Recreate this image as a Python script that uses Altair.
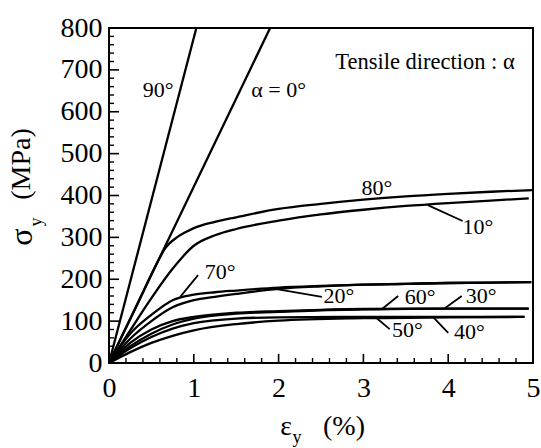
import altair as alt
import pandas as pd

FONT = "Liberation Serif, Times New Roman, Times, serif"

# ---- curve data (strain %, stress MPa) ----
x_0 = [0, 1.9]
s_0 = [0, 800]
x_90 = [0, 1.03]
s_90 = [0, 800]
x_80 = [0, 0.3, 0.6, 0.65, 0.7, 0.8, 0.9, 1.0, 1.25, 1.5, 2, 2.5, 3, 3.5, 4, 4.5, 5]
s_80 = [0, 126, 252, 270, 283, 300, 312, 322, 337, 348, 368, 380, 390, 398, 404, 409, 413]
x_10 = [0, 0.25, 0.5, 0.75, 1, 1.25, 1.5, 2, 2.5, 3, 3.5, 4, 4.5, 4.95]
s_10 = [0, 78, 155, 225, 280, 305, 320, 340, 355, 366, 375, 382, 388, 393]
x_70 = [0, 0.25, 0.5, 0.75, 1, 1.25, 1.5, 2, 2.5, 3, 3.5, 4, 4.5, 4.98]
s_70 = [0, 70, 115, 150, 163, 169, 173, 180, 184, 187, 189, 191, 192, 193]
x_20 = [0, 0.25, 0.5, 0.75, 1, 1.25, 1.5, 2, 2.5, 3, 3.5, 4, 4.5, 4.98]
s_20 = [0, 58, 100, 133, 150, 158, 165, 177, 183, 187, 189, 191, 192, 193]
x_60 = [0, 0.25, 0.5, 0.75, 1, 1.5, 2, 2.5, 3, 4, 4.95]
s_60 = [0, 48, 80, 100, 110, 120, 124, 127, 129, 130, 130]
x_30 = [0, 0.25, 0.5, 0.75, 1, 1.5, 2, 2.5, 3, 4, 4.95]
s_30 = [0, 40, 70, 92, 106, 118, 122, 126, 128, 130, 130]
x_50 = [0, 0.25, 0.5, 0.75, 1, 1.5, 2, 3, 4, 4.9]
s_50 = [0, 35, 62, 82, 95, 106, 109, 110, 110, 110]
x_40 = [0, 0.25, 0.5, 0.75, 1, 1.5, 2, 3, 4, 4.9]
s_40 = [0, 26, 48, 65, 78, 93, 101, 107, 109, 110]

# ---- curve labels ----
label_text = ["90°", "α = 0°", "80°", "10°", "70°", "20°", "60°", "30°", "50°", "40°"]
label_x = [0.58, 2.0, 3.16, 4.35, 1.31, 2.71, 3.67, 4.39, 3.52, 4.25]
label_y = [652, 652, 418, 325, 217, 160, 158, 160, 79, 74]

# ---- leader lines ----
lead_x1 = [3.76, 0.84, 1.96, 3.22, 3.96, 3.14, 3.82]
lead_y1 = [377, 158, 177, 129, 131, 110, 110]
lead_x2 = [4.17, 1.05, 2.51, 3.41, 4.16, 3.31, 4.00]
lead_y2 = [339, 210, 158, 160, 160, 81, 72]

# ---- axis ticks ----
x_major = [0, 1, 2, 3, 4, 5]
x_minor = [round(i * 0.2, 1) for i in range(26) if i % 5 != 0]
y_major = [0, 100, 200, 300, 400, 500, 600, 700, 800]
y_minor = [v for v in range(20, 800, 20) if v % 100 != 0]

W, H = 424, 335

series = [("0", x_0, s_0), ("90", x_90, s_90), ("80", x_80, s_80), ("10", x_10, s_10),
          ("70", x_70, s_70), ("20", x_20, s_20), ("60", x_60, s_60), ("30", x_30, s_30),
          ("50", x_50, s_50), ("40", x_40, s_40)]
rows = []
for name, xs, ys in series:
    for i, (a, b) in enumerate(zip(xs, ys)):
        rows.append({"series": name, "x": a, "y": b, "i": i})
df = pd.DataFrame(rows)

xscale = alt.Scale(domain=[0, 5], nice=False, zero=False)
yscale = alt.Scale(domain=[0, 800], nice=False, zero=False)

xaxis = alt.Axis(values=x_major, ticks=False, domain=False, grid=False, title=None,
                 labelFont=FONT, labelFontSize=28, labelColor="black", labelPadding=11,
                 format="d", labelFlush=False)
yaxis = alt.Axis(values=y_major, ticks=False, domain=False, grid=False, title=None,
                 labelFont=FONT, labelFontSize=28, labelColor="black", labelPadding=7,
                 format="d", labelFlush=False)

def X(f):
    return alt.X(f, scale=xscale, axis=xaxis)

def Y(f):
    return alt.Y(f, scale=yscale, axis=yaxis)

lines = alt.Chart(df).mark_line(color="black", strokeWidth=2.3, interpolate="monotone").encode(
    x=X("x:Q"), y=Y("y:Q"), detail="series:N", order="i:Q",
)

lab_df = pd.DataFrame({"t": label_text, "x": label_x, "y": label_y})
labels = alt.Chart(lab_df).mark_text(font=FONT, fontSize=22, color="black",
                                     align="center", baseline="middle").encode(
    x=X("x:Q"), y=Y("y:Q"), text="t:N",
)

lead_df = pd.DataFrame({"x1": lead_x1, "y1": lead_y1, "x2": lead_x2, "y2": lead_y2})
leaders = alt.Chart(lead_df).mark_rule(color="black", strokeWidth=1.8).encode(
    x=X("x1:Q"), y=Y("y1:Q"), x2="x2:Q", y2="y2:Q",
)

xmaj = alt.Chart(pd.DataFrame({"v": x_major})).mark_rule(color="black", strokeWidth=1.6).encode(
    x=X("v:Q"), y=alt.value(H), y2=alt.value(H - 9))
xmin = alt.Chart(pd.DataFrame({"v": x_minor})).mark_rule(color="black", strokeWidth=1.4).encode(
    x=X("v:Q"), y=alt.value(H), y2=alt.value(H - 5))
ymaj = alt.Chart(pd.DataFrame({"v": y_major})).mark_rule(color="black", strokeWidth=1.6).encode(
    y=Y("v:Q"), x=alt.value(0), x2=alt.value(10))
ymin = alt.Chart(pd.DataFrame({"v": y_minor})).mark_rule(color="black", strokeWidth=1.4).encode(
    y=Y("v:Q"), x=alt.value(0), x2=alt.value(5))

one = pd.DataFrame({"a": [0]})

def txt(s, x, y, size, angle=0, align="center"):
    return alt.Chart(one).mark_text(text=s, font=FONT, fontSize=size, color="black",
                                    align=align, baseline="middle", angle=angle).encode(
        x=alt.value(x), y=alt.value(y))

tensile = txt("Tensile direction : α", 316, 34, 22.5)
xt1 = txt("ε", 177, 399, 28)
xt2 = txt("y", 188, 410, 18)
xt3 = txt("(%)", 235, 399, 28)
yt1 = txt("σ", -87, 209, 32, angle=270)
yt2 = txt("y", -72, 194, 18, angle=270)
yt3 = txt("(MPa)", -87, 136, 28, angle=270)

chart = alt.layer(
    xmin, xmaj, ymin, ymaj, lines, leaders, labels, tensile, xt1, xt2, xt3, yt1, yt2, yt3
).properties(
    width=W, height=H,
    padding={"left": 109, "top": 28, "right": 8, "bottom": 85},
    autosize=alt.AutoSizeParams(type="none"),
    background="white",
).configure_view(stroke="black", strokeWidth=2).configure_text(font=FONT)

chart.save("out.html", embed_options={"renderer": "svg", "actions": False})
